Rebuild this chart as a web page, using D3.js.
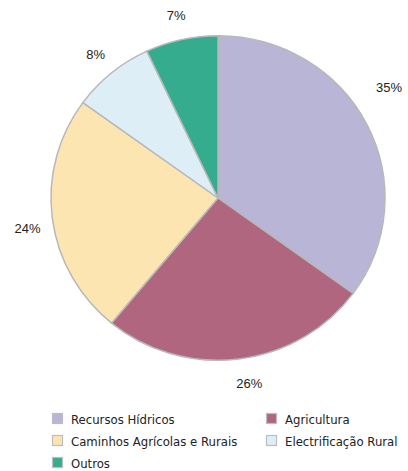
<!DOCTYPE html>
<html>
<head>
<meta charset="utf-8">
<script src="https://cdn.jsdelivr.net/npm/d3@7"></script>
<style>
  body { margin: 0; background: #fff; }
  .lbl { font-family: "Liberation Sans", Arial, sans-serif; font-size: 13px; fill: #222; }
  .leg { font-family: "Liberation Sans Narrow", "DejaVu Sans Condensed", sans-serif; font-size: 13px; fill: #222; }
</style>
</head>
<body>
<svg id="chart"></svg>
<script>
var categories = ["Recursos Hídricos", "Agricultura", "Caminhos Agrícolas e Rurais", "Electrificação Rural", "Outros"];
var shares = [35, 26, 24, 8, 7];
var colours = ["#b9b5d7", "#b0667f", "#fde5b1", "#deeef7", "#34ac8d"];

function drawPie() {
    var width = 408, height = 471,
        cx = 218, cy = 198,
        radius = 167, squash = 0.972;

    var svg = d3.select("#chart")
        .attr("width", width)
        .attr("height", height);

    var data = categories.map(function(c, i) {
        return {name: c, value: shares[i], colour: colours[i]};
    });

    var pie = d3.pie()
        .sort(null)
        .value(function(d) { return d.value; });

    var arc = d3.arc().innerRadius(0).outerRadius(radius);
    var labelArc = d3.arc().innerRadius(192).outerRadius(192);

    var arcs = pie(data);

    var slices = svg.append("g")
        .attr("transform", "translate(" + cx + "," + cy + ") scale(1," + squash + ")");

    slices.selectAll("path")
        .data(arcs)
        .enter().append("path")
            .attr("d", arc)
            .attr("fill", function(d) { return d.data.colour; })
            .attr("stroke", "#b8b8b8")
            .attr("stroke-width", 1.5)
            .attr("vector-effect", "non-scaling-stroke");

    // percentage labels outside the pie; the lower ones sit a bit further out
    svg.append("g")
        .selectAll("text")
        .data(arcs)
        .enter().append("text")
            .attr("class", "lbl")
            .attr("x", function(d) {
                var c = labelArc.centroid(d);
                return cx + c[0] + (c[1] > 150 ? c[0] * 0.3 : 0);
            })
            .attr("y", function(d) {
                var c = labelArc.centroid(d);
                return cy + c[1] * squash + (Math.abs(c[0]) > 150 ? c[1] * 0.3 : 0);
            })
            .attr("text-anchor", "middle")
            .attr("dominant-baseline", "central")
            .text(function(d) { return d.data.value + "%"; });

    // legend, two columns
    var colX = [52, 266], rowY = 419, rowH = 22;
    var legend = svg.append("g")
        .selectAll("g")
        .data(data)
        .enter().append("g")
            .attr("transform", function(d, i) {
                return "translate(" + colX[i % 2] + "," + (rowY + Math.floor(i / 2) * rowH) + ")";
            });

    legend.append("rect")
        .attr("x", 0.5)
        .attr("y", -5.5)
        .attr("width", 10)
        .attr("height", 10)
        .attr("fill", function(d) { return d.colour; })
        .attr("stroke", "#bdbdbd")
        .attr("stroke-width", 1.2);

    legend.append("text")
        .attr("class", "leg")
        .attr("x", 19)
        .attr("y", 0)
        .attr("dominant-baseline", "central")
        .text(function(d) { return d.name; });
}

drawPie();
</script>
</body>
</html>
